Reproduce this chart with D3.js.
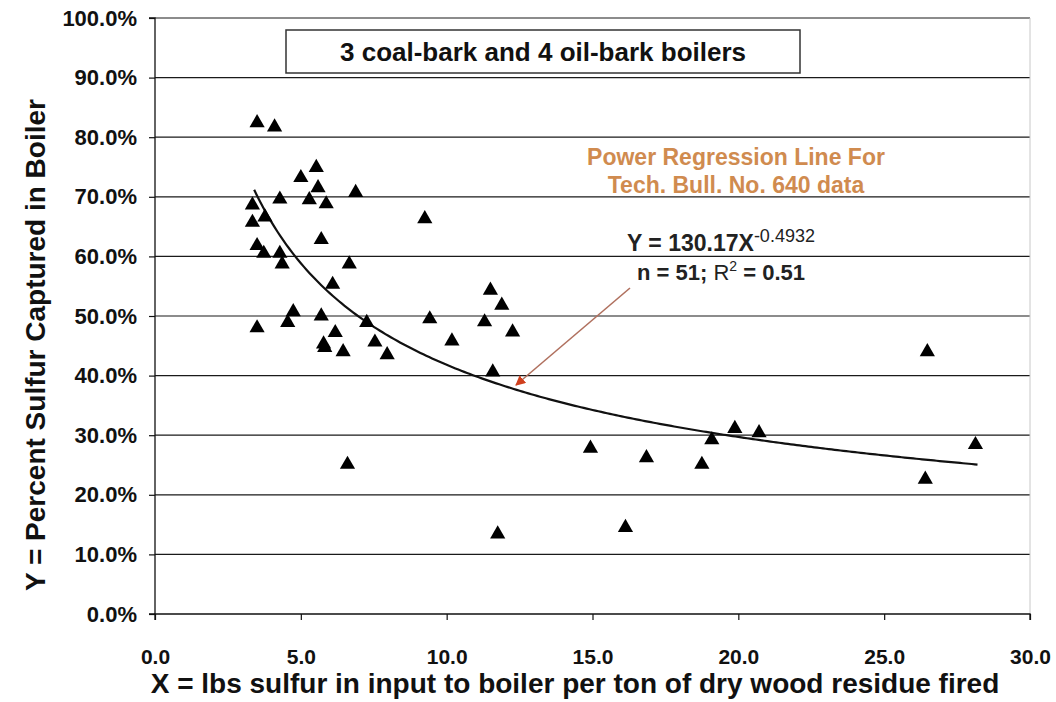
<!DOCTYPE html>
<html>
<head>
<meta charset="utf-8">
<script src="https://cdn.jsdelivr.net/npm/d3@7"></script>
<style>
  body { margin: 0; background: #fff; }
  svg { font-family: "Liberation Sans", Arial, sans-serif; }
</style>
</head>
<body>
<script>
(function (d3) {
  "use strict";

  /***** Data *****/
  // lbs sulfur in input per ton of dry wood residue fired
  var sulfurInput = [
    3.50, 4.10, 5.53, 5.00, 5.59, 6.88, 4.28, 5.29, 5.87, 3.34,
    3.77, 3.34, 5.70, 3.50, 3.73, 4.28, 4.36, 6.66, 6.09,
    4.74, 5.70, 7.26, 4.55, 3.50, 6.18, 5.78, 5.82, 6.45, 6.60,
    9.25, 11.50, 11.89, 9.42, 11.30, 12.26, 10.18, 7.96, 7.54, 11.58,
    14.93, 16.85, 18.75, 19.09, 19.88, 11.75, 16.13, 26.48, 20.71, 28.13, 26.41
  ];
  // percent sulfur captured in boiler
  var sulfurCaptured = [
    82.4, 81.7, 74.9, 73.2, 71.5, 70.7, 69.6, 69.5, 68.8, 68.6,
    66.6, 65.7, 62.8, 61.8, 60.5, 60.5, 58.7, 58.7, 55.3,
    50.7, 50.0, 48.9, 48.9, 48.0, 47.2, 45.3, 44.7, 44.0, 25.1,
    66.3, 54.3, 51.8, 49.5, 49.0, 47.3, 45.8, 43.5, 45.6, 40.6,
    27.8, 26.2, 25.1, 29.2, 31.1, 13.4, 14.5, 44.0, 30.4, 28.4, 22.6
  ];
  var xTicks = [0, 5, 10, 15, 20, 25, 30];
  var yTicks = [0, 10, 20, 30, 40, 50, 60, 70, 80, 90, 100];

  // power regression printed on the chart
  var fitCoef = 130.17;
  var fitExp = -0.4932;
  var fitRange = [3.4, 28.2];

  var titleText = "3 coal-bark and 4 oil-bark boilers";
  var noteLines = ["Power Regression Line For", "Tech. Bull. No. 640 data"];
  var xTitle = "X = lbs sulfur in input to boiler per ton of dry wood residue fired";
  var yTitle = "Y = Percent Sulfur Captured in Boiler";

  /***** Layout *****/
  var width = 1056, height = 702;
  var plot = { left: 155, right: 1030, top: 18, bottom: 614 };

  var xScale = d3.scaleLinear().domain([0, 30]).range([plot.left, plot.right]);
  var yScale = d3.scaleLinear().domain([0, 100]).range([plot.bottom, plot.top]);

  var svg = d3.select("body").append("svg")
      .attr("width", width)
      .attr("height", height);

  svg.append("defs").append("marker")
      .attr("id", "head")
      .attr("viewBox", "0 0 10 10")
      .attr("refX", 9).attr("refY", 5)
      .attr("markerWidth", 10).attr("markerHeight", 10)
      .attr("markerUnits", "userSpaceOnUse")
      .attr("orient", "auto")
    .append("path")
      .attr("d", "M0,0L10,5L0,10z")
      .attr("fill", "#d0401e");

  /***** Grid *****/
  svg.append("g").selectAll("line")
      .data(yTicks.filter(function (t) { return t > 0; }))
      .join("line")
      .attr("x1", plot.left).attr("x2", plot.right)
      .attr("y1", function (d) { return yScale(d); })
      .attr("y2", function (d) { return yScale(d); })
      .attr("stroke", "#1a1a1a")
      .attr("stroke-width", 1.2);

  svg.append("line")
      .attr("x1", plot.right).attr("x2", plot.right)
      .attr("y1", plot.top).attr("y2", plot.bottom)
      .attr("stroke", "#c8c8c8");

  /***** Axes *****/
  var xAxis = d3.axisBottom(xScale)
      .tickValues(xTicks)
      .tickSize(6)
      .tickPadding(29)
      .tickFormat(d3.format(".1f"));
  var yAxis = d3.axisLeft(yScale)
      .tickValues(yTicks)
      .tickSize(6)
      .tickPadding(12)
      .tickFormat(function (d) { return d.toFixed(1) + "%"; });

  var gx = svg.append("g")
      .attr("transform", "translate(0," + plot.bottom + ")")
      .call(xAxis);
  var gy = svg.append("g")
      .attr("transform", "translate(" + plot.left + ",0)")
      .call(yAxis);

  [gx, gy].forEach(function (g) {
    g.select(".domain").attr("stroke", "#111").attr("stroke-width", 1.3);
    g.selectAll(".tick line").attr("stroke", "#111").attr("stroke-width", 1.2);
    g.selectAll(".tick text")
        .attr("fill", "#111")
        .attr("font-family", "'Liberation Sans', Arial, sans-serif")
        .attr("font-weight", "bold")
        .attr("font-size", 21);
  });
  gy.selectAll(".tick text").attr("font-size", 22);
  gx.select(".domain").attr("d", "M" + plot.left + ",6V0H" + plot.right + "V6");
  gy.select(".domain").attr("d", "M-6," + plot.top + "H0V" + plot.bottom + "H-6");

  /***** Regression curve *****/
  var fitPoints = d3.range(fitRange[0], fitRange[1] + 0.001, 0.1).map(function (x) {
    return [x, fitCoef * Math.pow(x, fitExp)];
  });
  svg.append("path")
      .datum(fitPoints)
      .attr("fill", "none")
      .attr("stroke", "#111")
      .attr("stroke-width", 2.2)
      .attr("d", d3.line()
        .x(function (d) { return xScale(d[0]); })
        .y(function (d) { return yScale(d[1]); }));

  /***** Points *****/
  var tri = d3.symbol().type(d3.symbolTriangle).size(100);
  svg.append("g").selectAll("path")
      .data(sulfurInput.map(function (x, i) { return [x, sulfurCaptured[i]]; }))
      .join("path")
      .attr("d", tri)
      .attr("transform", function (d) {
        return "translate(" + xScale(d[0]) + "," + yScale(d[1]) + ")";
      })
      .attr("fill", "#000");

  /***** Title box *****/
  svg.append("rect")
      .attr("x", 286).attr("y", 30)
      .attr("width", 514).attr("height", 43)
      .attr("fill", "#fff")
      .attr("stroke", "#333")
      .attr("stroke-width", 1.5);
  svg.append("text")
      .attr("x", 543).attr("y", 61)
      .attr("text-anchor", "middle")
      .attr("font-size", 26)
      .attr("font-weight", "bold")
      .attr("fill", "#111")
      .text(titleText);

  /***** Annotations *****/
  svg.append("g").selectAll("text")
      .data(noteLines)
      .join("text")
      .attr("x", 736)
      .attr("y", function (d, i) { return 165 + i * 28; })
      .attr("text-anchor", "middle")
      .attr("font-size", 23)
      .attr("font-weight", "bold")
      .attr("fill", "#d08b4f")
      .text(function (d) { return d; });

  var eq = svg.append("text")
      .attr("x", 721).attr("y", 251)
      .attr("text-anchor", "middle")
      .attr("font-size", 23)
      .attr("font-weight", "bold")
      .attr("fill", "#222");
  eq.append("tspan").text("Y = 130.17X");
  eq.append("tspan").attr("dy", -9).attr("font-size", 18).attr("font-weight", "normal")
      .text("-0.4932");

  var stat = svg.append("text")
      .attr("x", 721).attr("y", 280)
      .attr("text-anchor", "middle")
      .attr("font-size", 22)
      .attr("font-weight", "bold")
      .attr("fill", "#222");
  stat.append("tspan").text("n = 51; ");
  stat.append("tspan").attr("font-weight", "normal").text("R");
  stat.append("tspan").attr("dy", -9).attr("font-size", 14).attr("font-weight", "normal").text("2");
  stat.append("tspan").attr("dy", 9).text(" = 0.51");

  svg.append("line")
      .attr("x1", 630).attr("y1", 288)
      .attr("x2", 516).attr("y2", 385)
      .attr("stroke", "#b0705e")
      .attr("stroke-width", 1.6)
      .attr("marker-end", "url(#head)");

  /***** Axis titles *****/
  svg.append("text")
      .attr("x", 575).attr("y", 693)
      .attr("text-anchor", "middle")
      .attr("font-size", 28)
      .attr("font-weight", "bold")
      .attr("fill", "#111")
      .text(xTitle);

  svg.append("text")
      .attr("transform", "translate(45,345) rotate(-90)")
      .attr("text-anchor", "middle")
      .attr("font-size", 28)
      .attr("font-weight", "bold")
      .attr("fill", "#111")
      .text(yTitle);

})(d3);
</script>
</body>
</html>
